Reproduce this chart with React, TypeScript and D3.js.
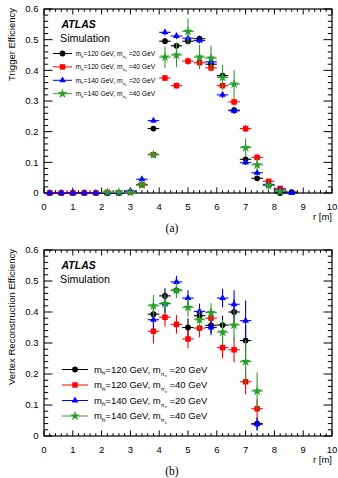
import * as d3 from 'd3';
import React from 'react';

// bin centres (r in metres)
const rTrig = [0.2, 0.6, 1.0, 1.4, 1.8, 2.2, 2.6, 3.0, 3.4, 3.8, 4.2, 4.6, 5.0, 5.4, 5.8, 6.2, 6.6, 7.0, 7.4, 7.8, 8.2, 8.6];
const rVert = [3.8, 4.2, 4.6, 5.0, 5.4, 5.8, 6.2, 6.6, 7.0, 7.4];

// trigger efficiency
const trigBlack = [0, 0, 0, 0, 0, 0, 0, 0.003, 0.027, 0.21, 0.495, 0.48, 0.495, 0.503, 0.42, 0.383, 0.27, 0.11, 0.048, 0.025, 0.0, 0.003];
const trigBlackErr = [0.001, 0.001, 0.001, 0.001, 0.001, 0.001, 0.001, 0.002, 0.004, 0.008, 0.01, 0.01, 0.01, 0.01, 0.01, 0.01, 0.01, 0.008, 0.005, 0.004, 0.002, 0.002];
const trigRed = [0, 0, 0, 0, 0, 0.002, 0.001, 0.002, 0.027, 0.125, 0.375, 0.35, 0.43, 0.425, 0.408, 0.35, 0.297, 0.21, 0.116, 0.038, 0.015, null];
const trigRedErr = [0.001, 0.001, 0.001, 0.001, 0.001, 0.002, 0.002, 0.002, 0.004, 0.008, 0.01, 0.01, 0.012, 0.012, 0.012, 0.012, 0.012, 0.012, 0.01, 0.006, 0.004, 0];
const trigBlue = [0, 0, 0, 0, 0, 0, 0, 0.007, 0.045, 0.236, 0.524, 0.512, 0.505, 0.497, 0.428, 0.32, 0.268, 0.099, 0.066, 0.028, 0.01, 0.0];
const trigBlueErr = [0.001, 0.001, 0.001, 0.001, 0.001, 0.001, 0.001, 0.002, 0.004, 0.008, 0.01, 0.01, 0.01, 0.01, 0.01, 0.01, 0.01, 0.008, 0.006, 0.004, 0.003, 0.002];
const trigGreen = [null, null, null, null, null, 0.002, 0.002, 0.002, 0.027, 0.125, 0.443, 0.45, 0.527, 0.443, 0.44, 0.377, 0.355, 0.148, 0.092, 0.025, 0.005, null];
const trigGreenErr = [0, 0, 0, 0, 0, 0.002, 0.002, 0.002, 0.006, 0.01, 0.035, 0.04, 0.042, 0.04, 0.04, 0.04, 0.045, 0.03, 0.02, 0.015, 0.008, 0];

// vertex reconstruction efficiency
const vertBlack = [0.393, 0.452, 0.47, 0.35, 0.388, 0.357, 0.358, 0.4, 0.308, 0.04];
const vertBlackErr = [0.03, 0.025, 0.02, 0.03, 0.025, 0.025, 0.03, 0.04, 0.05, 0.02];
const vertRed = [0.338, 0.383, 0.36, 0.313, 0.348, 0.38, 0.285, 0.278, 0.175, 0.088];
const vertRedErr = [0.04, 0.03, 0.03, 0.03, 0.03, 0.03, 0.035, 0.04, 0.04, 0.03];
const vertBlue = [0.375, 0.427, 0.497, 0.445, 0.402, 0.35, 0.445, 0.425, 0.372, 0.038];
const vertBlueErr = [0.03, 0.03, 0.02, 0.025, 0.025, 0.025, 0.03, 0.045, 0.065, 0.02];
const vertGreen = [0.42, 0.427, 0.47, 0.415, 0.375, 0.398, 0.335, 0.358, 0.24, 0.145];
const vertGreenErr = [0.035, 0.03, 0.025, 0.03, 0.03, 0.03, 0.04, 0.05, 0.07, 0.06];

const mh = ['120', '120', '140', '140'];
const mpi = ['20', '40', '20', '40'];
const colors = ['#000000', '#ff0000', '#0000ff', '#2a9e2a'];
const shapes = [d3.symbolCircle, d3.symbolSquare, d3.symbolTriangle, d3.symbolStar];
const shapeSize = [26, 30, 20, 30];

const xTicks = [0, 1, 2, 3, 4, 5, 6, 7, 8, 9, 10];
const yTicks = [0, 0.1, 0.2, 0.3, 0.4, 0.5, 0.6];

const font = 'Liberation Sans, Arial, Helvetica, sans-serif';

function Panel(props) {
    const { top, bottom, r, series, errs, title, legend, caption } = props;
    const x = d3.scaleLinear().domain([0, 10]).range([44, 332]);
    const y = d3.scaleLinear().domain([0, 0.6]).range([bottom, top]);
    const xMinor = d3.range(0, 10.001, 0.2);
    const yMinor = d3.range(0, 0.6001, 0.02);
    const xl = 5.5, xs = 2.8, yl = 8.5, ys = 4.2;

    return (
        <g>
            {/* ticks on all four sides */}
            {xMinor.map((t, i) => {
                const len = Math.abs(t - Math.round(t)) < 1e-6 ? xl : xs;
                return (
                    <g key={'xt' + i} stroke="#000" strokeWidth={1}>
                        <line x1={x(t)} x2={x(t)} y1={bottom} y2={bottom - len} />
                        <line x1={x(t)} x2={x(t)} y1={top} y2={top + len} />
                    </g>
                );
            })}
            {yMinor.map((t, i) => {
                const len = Math.abs(t * 10 - Math.round(t * 10)) < 1e-6 ? yl : ys;
                return (
                    <g key={'yt' + i} stroke="#000" strokeWidth={1}>
                        <line x1={44} x2={44 + len} y1={y(t)} y2={y(t)} />
                        <line x1={332} x2={332 - len} y1={y(t)} y2={y(t)} />
                    </g>
                );
            })}
            <rect x={44} y={top} width={288} height={bottom - top} fill="none" stroke="#000" strokeWidth={1.2} />

            {xTicks.map((t) => (
                <text key={'xl' + t} x={x(t)} y={bottom + 17} fontSize={9.5} fontFamily={font} textAnchor="middle">{t}</text>
            ))}
            {yTicks.map((t) => (
                <text key={'yl' + t} x={38.5} y={y(t) + 3.4} fontSize={9.5} fontFamily={font} textAnchor="end">{t === 0 ? '0' : t.toFixed(1)}</text>
            ))}
            <text x={332} y={bottom + 27} fontSize={9.5} fontFamily={font} textAnchor="end">r [m]</text>
            <text transform={`translate(14.5,${top - 1}) rotate(-90)`} fontSize={9.5} fontFamily={font} textAnchor="end">{title}</text>

            <text x={61.5} y={top + 18.5} fontSize={10.5} fontFamily={font} fontWeight="bold" fontStyle="italic">ATLAS</text>
            <text x={60} y={top + 32.5} fontSize={10.7} fontFamily={font}>Simulation</text>

            {/* data */}
            {series.map((vals, s) => (
                <g key={'s' + s} fill={colors[s]} stroke={colors[s]}>
                    {vals.map((v, i) => {
                        if (v === null) return null;
                        const e = errs[s][i];
                        const cx = x(r[i]);
                        const cy = y(v);
                        return (
                            <g key={i}>
                                <line x1={x(r[i] - 0.2)} x2={x(r[i] + 0.2)} y1={cy} y2={cy} strokeWidth={1.1} />
                                {e > 0 && <line x1={cx} x2={cx} y1={y(v - e)} y2={y(v + e)} strokeWidth={1.1} />}
                                <path d={d3.symbol().type(shapes[s]).size(shapeSize[s])()} transform={`translate(${cx},${cy})`} stroke="none" />
                            </g>
                        );
                    })}
                </g>
            ))}

            {/* legend */}
            {mh.map((m, i) => {
                const ly = legend.y0 + i * legend.dy;
                const fs = legend.fs;
                return (
                    <g key={'lg' + i}>
                        <line x1={legend.x1} x2={legend.x2} y1={ly} y2={ly} stroke={colors[i]} strokeWidth={1} />
                        <path d={d3.symbol().type(shapes[i]).size(shapeSize[i])()} transform={`translate(${(legend.x1 + legend.x2) / 2},${ly})`} fill={colors[i]} />
                        <text x={legend.tx} y={ly + fs * 0.35} fontSize={fs} fontFamily={font}>
                            m
                            <tspan dy={fs * 0.25} fontSize={fs * 0.65}>h</tspan>
                            <tspan dy={-fs * 0.25}>={m} GeV, m</tspan>
                            <tspan dy={fs * 0.3} fontSize={fs * 0.6}>π</tspan>
                            <tspan dy={fs * 0.15} fontSize={fs * 0.45}>v</tspan>
                            <tspan dy={-fs * 0.45}> ={mpi[i]} GeV</tspan>
                        </text>
                    </g>
                );
            })}

            <text x={172} y={caption} fontSize={11.5} fontFamily="Liberation Serif, Times New Roman, serif" textAnchor="middle">{props.label}</text>
        </g>
    );
}

export default function App() {
    return (
        <svg width={338} height={478} style={{ position: 'absolute', left: 0, top: 0, background: '#fff' }}>
            <rect width={338} height={478} fill="#fff" />
            <Panel
                top={9}
                bottom={193}
                r={rTrig}
                series={[trigBlack, trigRed, trigBlue, trigGreen]}
                errs={[trigBlackErr, trigRedErr, trigBlueErr, trigGreenErr]}
                title="Trigger Efficiency"
                legend={{ x1: 53, x2: 72, tx: 75.5, y0: 53.5, dy: 13.4, fs: 6.7 }}
                caption={232}
                label="(a)"
            />
            <Panel
                top={250}
                bottom={436}
                r={rVert}
                series={[vertBlack, vertRed, vertBlue, vertGreen]}
                errs={[vertBlackErr, vertRedErr, vertBlueErr, vertGreenErr]}
                title="Vertex Reconstruction Efficiency"
                legend={{ x1: 62, x2: 88, tx: 94, y0: 369.5, dy: 15.5, fs: 9.5 }}
                caption={475}
                label="(b)"
            />
        </svg>
    );
}
